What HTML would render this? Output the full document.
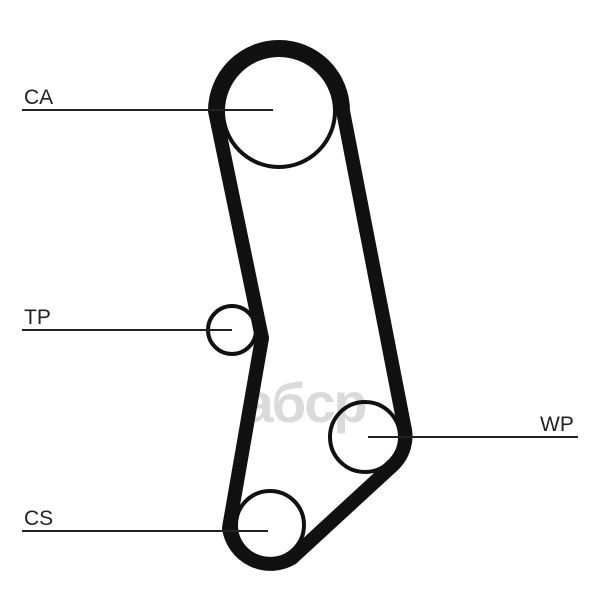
<!DOCTYPE html>
<html><head><style>html,body{margin:0;padding:0;background:#fff}</style></head><body>
<svg width="600" height="600" viewBox="0 0 600 600" xmlns="http://www.w3.org/2000/svg">
<text x="304" y="422" text-anchor="middle" font-family="Liberation Sans, sans-serif" font-weight="bold" font-size="56" fill="#dadada" letter-spacing="-2">aбcp</text>
<g fill="none" stroke="#111" stroke-width="4">
<circle cx="279" cy="111" r="56"/>
<circle cx="232" cy="330" r="24"/>
<circle cx="365" cy="437" r="35"/>
<circle cx="270" cy="525" r="34"/>
</g>
<path d="M215,111 A64,64 0 0 1 343,111 L404,425 A40,40 0 0 1 393,465 L292,558 A42,42 0 0 1 229,528 L262,338 L215,111 Z" fill="none" stroke="#111" stroke-width="14" stroke-linejoin="round"/>
<g stroke="#222" stroke-width="2">
<line x1="22" y1="110" x2="273" y2="110"/>
<line x1="22" y1="330" x2="232" y2="330"/>
<line x1="368" y1="437" x2="578" y2="437"/>
<line x1="22" y1="531" x2="268" y2="531"/>
</g>
<g font-family="Liberation Sans, sans-serif" font-size="21" fill="#222">
<text x="24" y="104">CA</text>
<text x="24" y="324">TP</text>
<text x="540" y="431">WP</text>
<text x="24" y="525">CS</text>
</g>
</svg>
</body></html>
